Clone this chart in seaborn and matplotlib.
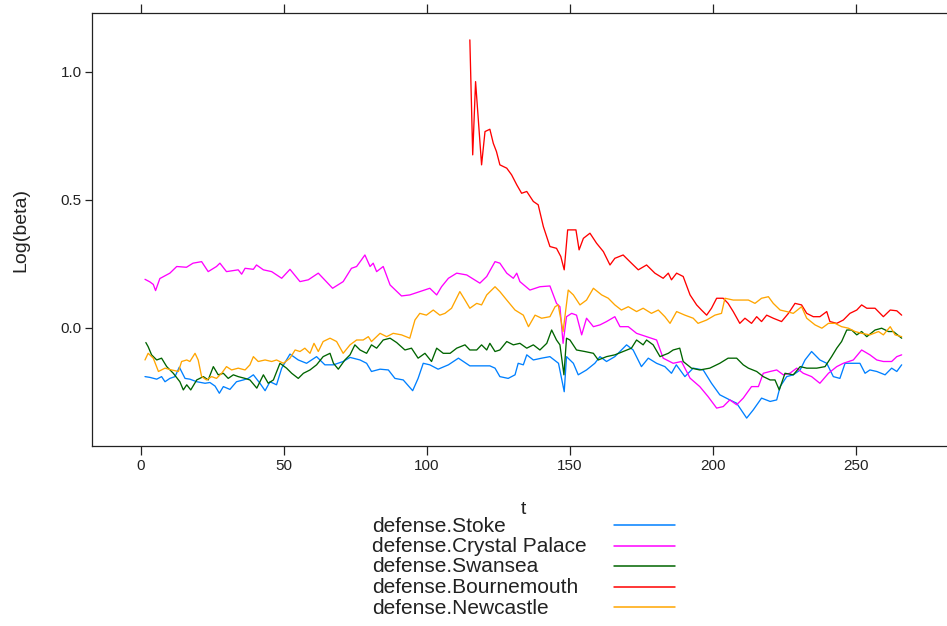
import matplotlib
matplotlib.use('Agg')
import matplotlib.pyplot as plt
import seaborn as sns
import pandas as pd
from matplotlib.lines import Line2D

# ---------------- data ----------------
series_names = ["defense.Stoke", "defense.Crystal Palace", "defense.Swansea",
                "defense.Bournemouth", "defense.Newcastle"]
series_colors = ["#0080ff", "#ff00ff", "#006400", "#ff0000", "#ffa500"]

t_stoke = [1.4, 3.1, 5.5, 7.2, 8.4, 10.1, 11.9, 13.4, 15.4, 17.1, 19.5, 22.4, 24.1, 25.9, 27.4,
           28.8, 31.1, 33.4, 35.8, 37.5, 39.3, 41.6, 43.4, 45.1, 47.4, 49.2, 52.1, 55.0, 57.9, 61.4,
           64.3, 67.3, 70.7, 73.1, 76.6, 78.9, 80.6, 83.6, 86.5, 88.8, 91.7, 95.0, 96.9, 98.7, 101.0,
           103.9, 107.5, 111.0, 115.0, 118.5, 122.0, 123.8,
           125.5, 128.4, 130.8, 131.9, 133.7, 134.9, 137.2, 140.1, 143.0, 146.0, 148.0, 148.8, 151.2,
           152.9, 155.8, 158.7, 160.5, 162.8, 165.7, 169.8, 172.1, 175.0, 177.4, 180.3, 183.2, 185.5,
           187.2, 190.2, 193.1, 196.6, 199.5, 202.4, 205.9, 208.3, 211.8, 214.1, 217.0, 220.0, 222.3,
           223.5, 225.8, 228.1, 230.5, 232.2, 234.5, 237.4, 239.8, 242.1, 244.4, 246.2, 249.1, 251.4,
           253.2, 254.9, 257.3, 260.2, 262.5, 264.3, 266.0]
v_stoke = [-0.19, -0.193, -0.20, -0.19, -0.21, -0.197, -0.19, -0.153, -0.197, -0.20, -0.21, -0.216,
           -0.213, -0.227, -0.255, -0.229, -0.24, -0.21, -0.203, -0.197, -0.183, -0.216, -0.245, -0.21,
           -0.222, -0.157, -0.102, -0.125, -0.138, -0.112, -0.144, -0.144, -0.131, -0.115, -0.125,
           -0.138, -0.17, -0.161, -0.164, -0.197, -0.203, -0.245, -0.197, -0.138, -0.144, -0.161,
           -0.144, -0.118, -0.148, -0.148, -0.148, -0.157,
           -0.19, -0.197, -0.183, -0.138, -0.144, -0.105, -0.125, -0.118, -0.112, -0.138, -0.249,
           -0.112, -0.138, -0.183, -0.164, -0.138, -0.112, -0.131, -0.112, -0.066, -0.086, -0.151,
           -0.118, -0.138, -0.151, -0.177, -0.144, -0.19, -0.157, -0.164, -0.216, -0.261, -0.281,
           -0.294, -0.352, -0.320, -0.274, -0.287, -0.281, -0.229, -0.19, -0.183, -0.164, -0.125,
           -0.092, -0.125, -0.138, -0.19, -0.197, -0.138, -0.138, -0.138, -0.177, -0.164, -0.17,
           -0.183, -0.157, -0.17, -0.144]

t_palace = [1.4, 3.1, 4.3, 5.1, 6.6, 10.1, 12.5, 15.9, 18.2, 21.2, 23.5, 26.4, 27.6, 29.9, 34.0,
            35.2, 36.4, 39.3, 40.4, 42.8, 45.7, 49.2, 52.1, 55.6, 58.5, 62.0, 63.7, 67.0, 70.7, 73.6,
            75.4, 77.1, 78.3, 80.1, 81.2, 82.4, 84.7, 87.1, 91.1, 94.0, 97.5, 101.0, 103.4, 105.1,
            107.5, 110.4, 113.9, 118.5, 120.9, 123.8,
            125.5, 127.9, 130.2, 131.4, 132.5, 136.0, 139.5, 143.0, 145.3, 146.5, 147.6, 148.8, 150.6,
            152.3, 154.1, 155.8, 158.2, 160.5, 162.8, 165.7, 167.5, 170.4, 173.3, 176.8, 180.3, 182.6,
            186.1, 189.0, 192.0, 195.4, 198.3, 201.3, 203.6, 205.9, 208.3, 210.6, 213.5, 215.9, 217.6,
            220.0, 222.3, 224.6, 226.9, 229.3, 231.6, 234.5, 237.4, 240.4, 243.3, 245.6, 249.1, 252.0,
            254.9, 257.3, 259.6, 262.5, 264.3, 266.0]
v_palace = [0.19, 0.18, 0.17, 0.146, 0.193, 0.214, 0.24, 0.237, 0.253, 0.259, 0.22, 0.24, 0.253,
            0.22, 0.227, 0.21, 0.233, 0.229, 0.246, 0.227, 0.22, 0.194, 0.229, 0.181, 0.188, 0.214,
            0.194, 0.155, 0.181, 0.233, 0.24, 0.266, 0.285, 0.24, 0.253, 0.22, 0.24, 0.168, 0.125,
            0.129, 0.142, 0.155, 0.129, 0.161, 0.194, 0.214, 0.207, 0.175, 0.201, 0.259,
            0.253, 0.214, 0.194, 0.214, 0.181, 0.148, 0.161, 0.164, 0.096, 0.083, -0.06, 0.044, 0.057,
            0.05, -0.027, 0.038, 0.005, 0.012, 0.025, 0.044, 0.005, 0.005, -0.021, -0.034, -0.047,
            -0.118, -0.138, -0.131, -0.196, -0.229, -0.268, -0.313, -0.307, -0.281, -0.30, -0.274,
            -0.229, -0.229, -0.177, -0.17, -0.164, -0.183, -0.177, -0.157, -0.177, -0.19, -0.216,
            -0.177, -0.151, -0.138, -0.125, -0.086, -0.105, -0.125, -0.131, -0.131, -0.112, -0.105]

t_swansea = [1.7, 2.5, 3.7, 5.5, 7.2, 9.0, 11.3, 13.6, 14.8, 16.0, 17.4, 19.5, 21.8, 23.5, 25.3,
             27.0, 28.8, 30.5, 32.3, 34.0, 36.4, 38.1, 40.5, 42.8, 44.5, 46.3, 48.6, 50.9, 52.7, 55.0,
             56.8, 59.1, 61.4, 63.7, 66.1, 67.3, 69.0, 71.3, 73.1, 74.8, 76.6, 78.9, 80.6, 82.4, 84.7,
             87.1, 89.4, 92.3, 94.6, 96.9, 99.3, 101.6, 103.4, 105.7, 108.1, 110.4, 113.3, 115.0,
             117.4, 119.1, 120.9, 122.0, 123.8,
             125.5, 127.9, 130.2, 132.5, 134.9, 137.2, 139.5, 141.9, 143.6, 145.3, 146.5, 147.9, 148.8,
             150.0, 152.3, 155.2, 158.2, 159.9, 162.8, 165.7, 168.6, 171.5, 173.3, 175.6, 176.8, 179.1,
             181.5, 184.4, 186.1, 188.4, 189.6, 192.5, 195.4, 198.9, 202.4, 205.3, 208.3, 210.6, 212.4,
             215.3, 217.6, 220.0, 221.7, 223.2, 225.2, 228.1, 230.5, 232.8, 236.3, 239.2, 241.5, 243.3,
             245.0, 246.8, 248.5, 250.3, 252.0, 253.8, 256.7, 259.0, 261.4, 263.1, 266.0]
v_swansea = [-0.057, -0.073, -0.105, -0.125, -0.118, -0.151, -0.177, -0.21, -0.242, -0.222, -0.242,
             -0.203, -0.19, -0.203, -0.151, -0.183, -0.177, -0.197, -0.183, -0.19, -0.197, -0.203,
             -0.235, -0.183, -0.216, -0.203, -0.138, -0.157, -0.177, -0.197, -0.177, -0.164, -0.144,
             -0.112, -0.099, -0.138, -0.161, -0.125, -0.105, -0.066, -0.086, -0.099, -0.066, -0.079,
             -0.047, -0.04, -0.057, -0.086, -0.079, -0.118, -0.099, -0.131, -0.079, -0.099, -0.099,
             -0.079, -0.066, -0.086, -0.086, -0.066, -0.086, -0.06, -0.092,
             -0.086, -0.053, -0.066, -0.06, -0.079, -0.066, -0.086, -0.06, -0.008, -0.047, -0.066,
             -0.183, -0.04, -0.047, -0.086, -0.092, -0.099, -0.125, -0.112, -0.105, -0.092, -0.079,
             -0.047, -0.066, -0.047, -0.066, -0.112, -0.099, -0.086, -0.079, -0.131, -0.157, -0.164,
             -0.157, -0.138, -0.118, -0.118, -0.144, -0.157, -0.17, -0.19, -0.203, -0.203, -0.242,
             -0.177, -0.183, -0.151, -0.157, -0.157, -0.151, -0.112, -0.079, -0.053, -0.008, -0.008,
             -0.027, -0.014, -0.034, -0.008, -0.001, -0.014, -0.014, -0.04]

t_bournemouth = [115.0, 116.0, 117.0, 119.1, 120.3, 122.0, 123.2, 124.3, 125.5, 127.9, 129.6, 131.4,
                 133.1, 134.9, 137.2, 138.9, 140.7, 143.0, 145.3, 146.8, 148.0, 149.2, 152.1, 153.2,
                 154.7, 157.0, 159.3, 161.7, 164.0, 165.7, 168.6, 171.5, 173.9, 176.8, 179.7, 182.6,
                 184.4, 185.5, 187.3, 189.6, 192.0, 194.3, 196.0, 197.8, 199.5, 201.3, 203.6, 205.3,
                 207.1, 209.4, 211.2, 213.5, 215.3, 217.0, 218.8, 221.1, 224.0, 226.4, 228.7, 231.0,
                 232.8, 235.1, 237.4, 239.8, 240.9, 243.3, 245.6, 247.9, 250.3, 252.0, 253.8, 256.7,
                 259.6, 262.0, 264.3, 266.0]
v_bournemouth = [1.125, 0.676, 0.962, 0.637, 0.767, 0.776, 0.721, 0.689, 0.637, 0.624, 0.598, 0.559,
                 0.526, 0.533, 0.494, 0.481, 0.396, 0.318, 0.311, 0.279, 0.227, 0.383, 0.383, 0.305,
                 0.35, 0.37, 0.331, 0.298, 0.246, 0.272, 0.285, 0.253, 0.227, 0.246, 0.214, 0.194,
                 0.214, 0.188, 0.214, 0.201, 0.129, 0.09, 0.07, 0.05, 0.077, 0.116, 0.116, 0.096,
                 0.064, 0.018, 0.038, 0.018, 0.044, 0.025, 0.05, 0.038, 0.025, 0.057, 0.096, 0.09,
                 0.057, 0.044, 0.044, 0.064, 0.025, 0.018, 0.031, 0.057, 0.07, 0.09, 0.077, 0.077,
                 0.044, 0.07, 0.067, 0.05]

t_newcastle = [1.4, 2.5, 4.3, 6.1, 8.4, 10.7, 13.1, 14.2, 16.0, 17.1, 18.9, 20.0, 21.2, 22.9, 24.7,
               26.4, 28.2, 29.9, 31.7, 34.0, 36.4, 38.1, 39.3, 41.0, 43.4, 45.7, 47.4, 49.8, 52.1,
               53.9, 55.6, 57.3, 59.1, 60.5, 62.0, 63.7, 66.1, 68.4, 70.7, 73.1, 75.4, 77.7, 79.5,
               80.6, 83.6, 85.9, 88.2, 91.1, 94.0, 95.8, 97.5, 99.8, 102.2, 104.5, 106.3, 108.6,
               111.5, 113.3, 115.0, 117.4, 119.1, 120.9, 123.8,
               125.5, 127.9, 130.8, 133.7, 135.5, 137.8, 140.1, 143.0, 144.8, 145.9, 147.6, 149.4,
               151.2, 153.5, 155.8, 158.2, 161.1, 163.4, 165.7, 168.0, 170.4, 173.3, 175.6, 178.5,
               180.9, 183.2, 185.0, 187.3, 190.2, 193.1, 194.8, 197.8, 200.7, 203.0, 204.2, 207.1,
               210.0, 212.4, 214.7, 217.0, 219.4, 221.1, 223.5, 225.8, 228.1, 231.0, 232.8, 235.7,
               238.1, 240.4, 242.7, 245.0, 247.4, 249.7, 252.0, 254.9, 257.9, 259.6, 262.0, 263.7,
               266.0]
v_newcastle = [-0.125, -0.099, -0.118, -0.17, -0.157, -0.164, -0.17, -0.131, -0.125, -0.131, -0.099,
               -0.125, -0.19, -0.203, -0.19, -0.197, -0.177, -0.151, -0.164, -0.157, -0.164, -0.144,
               -0.112, -0.131, -0.125, -0.131, -0.125, -0.138, -0.118, -0.086, -0.092, -0.079, -0.099,
               -0.06, -0.092, -0.053, -0.04, -0.053, -0.099, -0.066, -0.047, -0.047, -0.034, -0.053,
               -0.021, -0.034, -0.021, -0.027, -0.04, 0.031, 0.057, 0.05, 0.07, 0.05, 0.057, 0.077,
               0.142, 0.109, 0.077, 0.096, 0.09, 0.129, 0.161,
               0.142, 0.109, 0.07, 0.05, 0.005, 0.05, 0.038, 0.044, 0.083, 0.09, -0.014, 0.148, 0.129,
               0.09, 0.109, 0.155, 0.129, 0.116, 0.09, 0.07, 0.083, 0.064, 0.077, 0.057, 0.07, 0.044,
               0.018, 0.064, 0.05, 0.038, 0.018, 0.031, 0.05, 0.057, 0.116, 0.109, 0.109, 0.109, 0.096,
               0.116, 0.122, 0.096, 0.07, 0.064, 0.057, 0.083, 0.038, 0.012, -0.001, 0.018, 0.018,
               0.005, -0.001, -0.014, -0.021, -0.027, -0.014, -0.027, 0.005, -0.027, -0.034]

x_ticks = [0, 50, 100, 150, 200, 250]
y_ticks = [0.0, 0.5, 1.0]
y_tick_labels = ["0.0", "0.5", "1.0"]

# ---------------- build long table ----------------
all_t = [t_stoke, t_palace, t_swansea, t_bournemouth, t_newcastle]
all_v = [v_stoke, v_palace, v_swansea, v_bournemouth, v_newcastle]
frames = []
for name, tt, vv in zip(series_names, all_t, all_v):
    frames.append(pd.DataFrame({"t": tt, "value": vv, "series": name}))
df = pd.concat(frames, ignore_index=True)
palette = dict(zip(series_names, series_colors))

# ---------------- figure ----------------
sns.set_theme(style="white")
plt.rcParams["font.family"] = ["Liberation Sans", "DejaVu Sans"]

W, H = 947, 626
fig = plt.figure(figsize=(W / 100, H / 100), dpi=100)
ax = fig.add_axes([92 / W, (H - 446) / H, 862 / W, 433 / H])

sns.lineplot(data=df, x="t", y="value", hue="series", hue_order=series_names,
             palette=palette, estimator=None, sort=False, linewidth=0.95,
             legend=False, ax=ax)

ax.set_xlim(-17.13, 284.3)
ax.set_ylim(-0.461, 1.230)
ax.set_xticks(x_ticks)
ax.set_xticklabels([str(v) for v in x_ticks])
ax.set_yticks(y_ticks)
ax.set_yticklabels(y_tick_labels)

for sp in ax.spines.values():
    sp.set_visible(True)
    sp.set_color("#222222")
    sp.set_linewidth(0.9)

ax.tick_params(axis="x", direction="out", length=6.5, width=0.9, color="#222222",
               bottom=True, top=True, labelbottom=True, labeltop=False,
               labelsize=11, labelcolor="#222222", pad=3)
ax.tick_params(axis="y", direction="out", length=5, width=0.9, color="#222222",
               left=True, right=False, labelleft=True, labelsize=11,
               labelcolor="#222222", pad=2.5)

ax.set_xlabel("t", fontsize=14, color="#222222")
ax.set_ylabel("Log(beta)", fontsize=14, color="#222222")
ax.xaxis.set_label_coords((523 - 92) / 862, (446 - 501) / 433)
ax.yaxis.set_label_coords((29 - 92) / 862, 0.5)

# ---------------- legend (text left, line key to the right) ----------------
row_y = [526, 546.5, 567, 587.5, 608]
for name, col, y in zip(series_names, series_colors, row_y):
    fig.text(372 / W, 1 - y / H, name, fontsize=15, color="#222222",
             ha="left", va="center")
    fig.add_artist(Line2D([614 / W, 675 / W], [1 - (y - 1) / H, 1 - (y - 1) / H],
                          transform=fig.transFigure, color=col, linewidth=1.1))

fig.savefig("out.png", dpi=100)
